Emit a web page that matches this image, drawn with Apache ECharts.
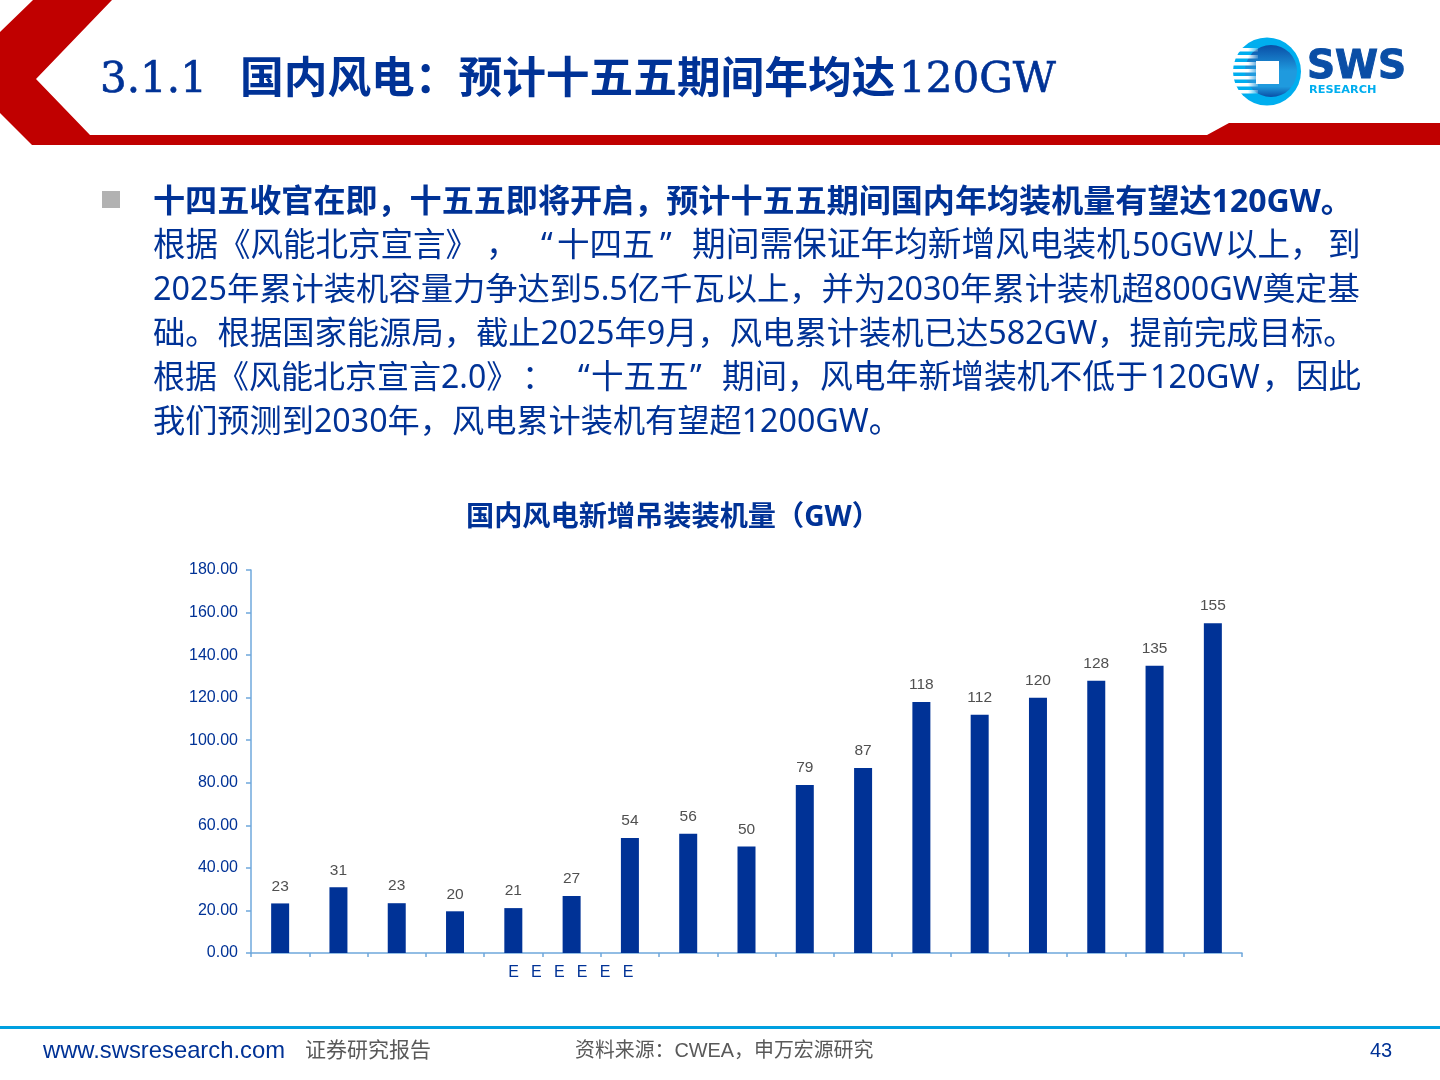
<!DOCTYPE html>
<html>
<head>
<meta charset="utf-8">
<style>
html, body { margin: 0; padding: 0; background: #fff; }
#main { width: 1440px; height: 1080px; }
</style>
<script src="https://cdn.jsdelivr.net/npm/echarts@6/dist/echarts.min.js"></script>
</head>
<body>
<div id="main"></div>
<script>
// 图表数据
var categories = ['', '', '', '', '', '', '', '', '', '', '', '', '', '', '', '', ''];
var values = [23.3, 30.9, 23.4, 19.6, 21.1, 26.8, 54, 56, 50, 79, 87, 118, 112, 120, 128, 135, 155];
var estimateMarks = ['E', 'E', 'E', 'E', 'E', 'E'];

// 页面文字
var titleParts = ['3.1.1', '国内风电：预计十五五期间年均达', '120GW'];
var bodyParts = [
    ['十四五收官在即，十五五即将开启，预计十五五期间国内年均装机量有望达120GW。'],
    ['根据《风能北京宣言》', '，', '“', '十四五', '”', '期间需保证年均新增风电装机', '50GW', '以上，', '到'],
    ['2025年累计装机容量力争达到5.5亿千瓦以上，并为2030年累计装机超800GW奠定基'],
    ['础。根据国家能源局，截止2025年9月，风电累计装机已达582GW，提前完成目标。'],
    ['根据《风能北京宣言2.0》', '：', '“', '十五五', '”', '期间，', '风电年新增装机不低于', '120GW', '，', '因此'],
    ['我们预测到2030年，风电累计装机有望超1200GW。']
];
var chartTitle = '国内风电新增吊装装机量（GW）';

var BLUE = '#003296';
var RED = '#c00000';
var CJK = '"Noto Sans", "Noto Sans CJK SC", sans-serif';
var SERIF = '"DejaVu Serif", serif';

var chart = echarts.init(document.getElementById('main'), null, { width: 1440, height: 1080 });

// 页眉、正文、页脚
function buildGraphic() {
    // 两端对齐的行按段摆放
    var bodyX = [
        [153],
        [153, 486, 541, 557, 660, 692, 1132, 1225, 1328],
        [153],
        [153],
        [153, 522, 578, 591, 690, 722, 820, 1150, 1262, 1296],
        [153]
    ];
    var bodySize = [
        [32.1],
        [32.5, 32.5, 32.5, 32.5, 32.5, 33.7, 32.5, 32.5, 32.5],
        [32.3],
        [32.3],
        [32, 32.5, 32.5, 32.5, 32.5, 32.5, 32.8, 32.5, 32.5, 32.5],
        [32.2]
    ];
    var items = [
        { type: 'polygon', shape: { points: [[0, 32], [33, 0], [112, 0], [36, 79], [90, 135], [1207, 135], [1229, 123], [1440, 123], [1440, 145], [32, 145], [0, 113]] }, style: { fill: RED } },
        { type: 'text', style: { x: 100, y: 81, text: titleParts[0], fill: BLUE, font: '42px ' + SERIF, verticalAlign: 'middle', stroke: BLUE, lineWidth: 0.6 } },
        { type: 'text', style: { x: 240, y: 76.5, text: titleParts[1], fill: BLUE, font: 'bold 43.7px "Noto Sans CJK SC", sans-serif', verticalAlign: 'middle' } },
        { type: 'text', style: { x: 899, y: 81, text: titleParts[2], fill: BLUE, font: '42px ' + SERIF, verticalAlign: 'middle', stroke: BLUE, lineWidth: 0.6 } },
        // logo
        { type: 'circle', shape: { cx: 1267, cy: 71.5, r: 34 }, style: { fill: '#00aeef' } },
        { type: 'circle', shape: { cx: 1271, cy: 71, r: 26 }, style: { fill: new echarts.graphic.LinearGradient(0, 0, 0, 1, [{ offset: 0, color: '#0a4ea6' }, { offset: 0.5, color: '#1f9ade' }, { offset: 0.8, color: '#1f9ade' }, { offset: 1, color: '#0a4ea6' }]) } },
        { type: 'rect', shape: { x: 1256, y: 61, width: 23, height: 23 }, style: { fill: '#fff' } },
        { type: 'text', style: { x: 1307, y: 68, text: 'SWS', fill: '#0a4ea6', font: 'bold 39px "DejaVu Sans", sans-serif', verticalAlign: 'middle', stroke: '#0a4ea6', lineWidth: 1 } },
        { type: 'text', style: { x: 1309, y: 90, text: 'RESEARCH', fill: '#00aeef', font: 'bold 11.3px "DejaVu Sans", sans-serif', verticalAlign: 'middle' } },
        // 项目符号
        { type: 'rect', shape: { x: 102, y: 191, width: 18, height: 17 }, style: { fill: '#b2b2b2' } },
        { type: 'text', style: { x: 673, y: 518, text: chartTitle, fill: BLUE, font: 'bold 28.2px ' + CJK, align: 'center', verticalAlign: 'middle', width: 400 } },
        // 页脚
        { type: 'rect', shape: { x: 0, y: 1026, width: 1440, height: 3 }, style: { fill: '#00a0e0' } },
        { type: 'text', style: { x: 43, y: 1051, text: 'www.swsresearch.com', fill: BLUE, font: '23.8px "Liberation Sans", sans-serif', verticalAlign: 'middle' } },
        { type: 'text', style: { x: 305, y: 1049, text: '证券研究报告', fill: '#595959', font: '21px "Noto Sans CJK SC", sans-serif', verticalAlign: 'middle' } },
        { type: 'text', style: { x: 575, y: 1052, text: '资料来源：CWEA，申万宏源研究', fill: '#595959', font: '19.9px "Liberation Sans", "Noto Sans CJK SC", sans-serif', verticalAlign: 'middle' } },
        { type: 'text', style: { x: 1381, y: 1051, text: '43', fill: BLUE, font: '20px "Liberation Sans", sans-serif', align: 'center', verticalAlign: 'middle' } }
    ];
    // logo 左侧白色条纹
    [48, 55, 62, 69, 76, 83, 90].forEach(function (y) {
        items.splice(6, 0, { type: 'rect', shape: { x: 1233, y: y, width: 25, height: 3.5 }, style: { fill: new echarts.graphic.LinearGradient(0, 0, 1, 0, [{ offset: 0, color: '#fff' }, { offset: 0.6, color: '#fff' }, { offset: 1, color: 'rgba(255,255,255,0.2)' }]) } });
    });
    bodyParts.forEach(function (parts, i) {
        parts.forEach(function (part, j) {
            items.push({ type: 'text', style: { x: bodyX[i][j], y: 202.5 + i * 44, text: part, fill: BLUE, font: (i === 0 ? 'bold ' : '') + bodySize[i][j] + 'px ' + CJK, verticalAlign: 'middle' } });
        });
    });
    estimateMarks.forEach(function (m, i) {
        items.push({ type: 'text', style: { x: 513.5 + i * 22.9, y: 973, text: m, fill: BLUE, font: '16px "Liberation Sans", sans-serif', align: 'center', verticalAlign: 'middle' } });
    });
    return items;
}

chart.setOption({
    animation: false,
    grid: { left: 251, right: 198, top: 570, bottom: 127, containLabel: false },
    xAxis: {
        type: 'category',
        data: categories,
        axisLine: { lineStyle: { color: '#6fa8dc', width: 1.5 } },
        axisTick: { show: true, alignWithLabel: false, length: 4, lineStyle: { color: '#6fa8dc', width: 1.5 } },
        axisLabel: { show: false }
    },
    yAxis: {
        type: 'value',
        min: 0,
        max: 180,
        interval: 20,
        axisLine: { show: true, lineStyle: { color: '#6fa8dc', width: 1.5 } },
        axisTick: { show: true, length: 5, lineStyle: { color: '#6fa8dc', width: 1.5 } },
        splitLine: { show: false },
        axisLabel: {
            color: BLUE,
            fontSize: 16,
            fontFamily: '"Liberation Sans", sans-serif',
            margin: 13,
            formatter: function (v) { return v.toFixed(2); }
        }
    },
    series: [{
        type: 'bar',
        data: values,
        barWidth: 18,
        itemStyle: { color: BLUE },
        label: {
            show: true,
            position: 'top',
            distance: 9,
            color: '#505050',
            fontSize: 15.5,
            fontFamily: '"Liberation Sans", sans-serif',
            formatter: function (p) { return Math.round(p.value); }
        }
    }],
    graphic: buildGraphic()
});
</script>
</body>
</html>
